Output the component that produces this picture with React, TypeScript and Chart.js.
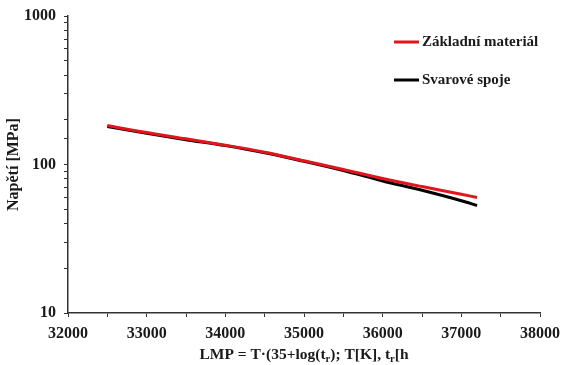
import React, { useEffect, useRef } from "react";
import { Chart, registerables } from "chart.js";

Chart.register(...registerables);

const lmp = [32500, 33000, 33500, 34000, 34500, 35000, 35500, 36000, 36500, 37000, 37200];
const zakladni = [183, 164, 149, 135, 121, 106, 92.5, 80.5, 71, 63, 60];
const svarove = [180, 162, 147, 134, 120, 105, 91, 77.5, 67, 57, 53];
const seriesLabels = ["Základní materiál", "Svarové spoje"];
const seriesColors = ["#e3141b", "#000000"];
const yTickLabels = [10, 100, 1000];
const xTitleParts: [string, boolean][] = [
  ["LMP = T·(35+log(t", false],
  ["r", true],
  ["); T[K], t", false],
  ["r", true],
  ["[h", false],
];

const FONT = "'Liberation Serif', 'Times New Roman', serif";

const overlayPlugin = {
  id: "overlay",
  afterDraw(chart: any) {
    const ctx = chart.ctx;
    const ca = chart.chartArea;
    ctx.save();
    // legend
    const lx = ca.right - 146;
    const rows = [ca.top + 26, ca.top + 64];
    chart.data.datasets.forEach((ds: any, i: number) => {
      const y = rows[i];
      ctx.strokeStyle = ds.borderColor;
      ctx.lineWidth = 3;
      ctx.beginPath();
      ctx.moveTo(lx, y);
      ctx.lineTo(lx + 25, y);
      ctx.stroke();
      ctx.fillStyle = "#1a1a1a";
      ctx.font = `bold 15px ${FONT}`;
      ctx.textBaseline = "middle";
      ctx.textAlign = "left";
      ctx.fillText(ds.label, lx + 28, y);
    });
    // x title with subscripts
    const main = `bold 15.5px ${FONT}`;
    const sub = `bold 10.5px ${FONT}`;
    let total = 0;
    xTitleParts.forEach(([t, s]) => {
      ctx.font = s ? sub : main;
      total += ctx.measureText(t).width;
    });
    let x = (ca.left + ca.right) / 2 - total / 2;
    const baseY = ca.bottom + 46;
    ctx.textBaseline = "alphabetic";
    ctx.textAlign = "left";
    ctx.fillStyle = "#1a1a1a";
    xTitleParts.forEach(([t, s]) => {
      ctx.font = s ? sub : main;
      ctx.fillText(t, x, s ? baseY + 3 : baseY);
      x += ctx.measureText(t).width;
    });
    ctx.restore();
  },
};

export default function App() {
  const ref = useRef<HTMLCanvasElement>(null);
  useEffect(() => {
    document.body.style.margin = "0";
    const chart = new Chart(ref.current!, {
      type: "line",
      data: {
        datasets: [
          {
            label: seriesLabels[0],
            data: lmp.map((x, i) => ({ x, y: zakladni[i] })),
            borderColor: seriesColors[0],
            borderWidth: 3,
            pointRadius: 0,
            cubicInterpolationMode: "monotone",
          },
          {
            label: seriesLabels[1],
            data: lmp.map((x, i) => ({ x, y: svarove[i] })),
            borderColor: seriesColors[1],
            borderWidth: 3,
            pointRadius: 0,
            cubicInterpolationMode: "monotone",
          },
        ],
      },
      options: {
        animation: false,
        responsive: false,
        layout: { padding: { top: 16, right: 21, left: 0, bottom: 0 } },
        plugins: { legend: { display: false }, tooltip: { enabled: false } },
        scales: {
          x: {
            type: "linear",
            min: 32000,
            max: 38000,
            afterFit: (s: any) => {
              s.height = 52;
              s.paddingLeft = 0;
              s.paddingRight = 0;
            },
            ticks: {
              stepSize: 500,
              autoSkip: false,
              maxRotation: 0,
              padding: 7,
              color: "#1a1a1a",
              font: { family: FONT, size: 16, weight: "bold" },
              callback: (v: any) => (Number(v) % 1000 === 0 ? String(v) : ""),
            },
            grid: { drawOnChartArea: false, drawTicks: true, tickLength: 4, color: "#333", lineWidth: 1 },
            border: { color: "#333", width: 1.5 },
          },
          y: {
            type: "logarithmic",
            min: 10,
            max: 1000,
            afterFit: (s: any) => {
              s.width = 68;
              s.paddingTop = 0;
              s.paddingBottom = 0;
            },
            title: {
              display: true,
              text: "Napětí [MPa]",
              color: "#1a1a1a",
              font: { family: FONT, size: 16, weight: "bold" },
              padding: { top: 4, bottom: 0 },
            },
            ticks: {
              autoSkip: false,
              padding: 8,
              color: "#1a1a1a",
              font: { family: FONT, size: 16, weight: "bold" },
              callback: (v: any) => (yTickLabels.includes(Number(v)) ? String(v) : ""),
            },
            grid: { drawOnChartArea: false, drawTicks: true, tickLength: 4, color: "#333", lineWidth: 1 },
            border: { color: "#333", width: 1.5 },
          },
        },
      } as any,
      plugins: [overlayPlugin],
    });
    return () => chart.destroy();
  }, []);
  return (
    <div style={{ position: "fixed", left: 0, top: 0, width: 561, height: 365 }}>
      <canvas ref={ref} width={561} height={365} />
    </div>
  );
}
